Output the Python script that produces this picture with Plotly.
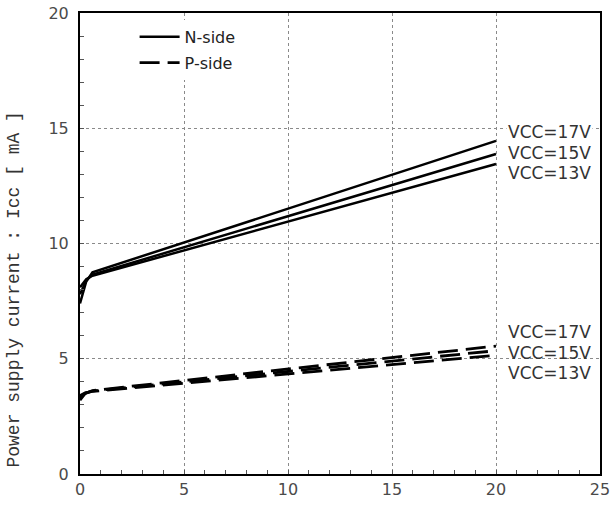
import plotly.graph_objects as go

# Data
x_n = [0, 0.3, 0.6, 20]
n_17 = [7.4, 8.35, 8.75, 14.45]
n_15 = [7.8, 8.4, 8.65, 13.88]
n_13 = [8.1, 8.45, 8.6, 13.45]

x_p = [0, 0.25, 0.6, 20]
p_17 = [3.2, 3.5, 3.62, 5.55]
p_15 = [3.3, 3.5, 3.6, 5.35]
p_13 = [3.4, 3.52, 3.58, 5.15]

labels = ["VCC=17V", "VCC=15V", "VCC=13V"]
label_y_n = [14.84, 13.93, 13.06]
label_y_p = [6.16, 5.25, 4.38]

x_ticks = [0, 5, 10, 15, 20, 25]
y_ticks = [0, 5, 10, 15, 20]

fig = go.Figure()

for i, ys in enumerate([n_17, n_15, n_13]):
    fig.add_trace(go.Scatter(
        x=x_n, y=ys, mode="lines", name="N-side", legendgroup="N",
        showlegend=(i == 0),
        line=dict(color="black", width=2.5),
    ))
for i, ys in enumerate([p_17, p_15, p_13]):
    fig.add_trace(go.Scatter(
        x=x_p, y=ys, mode="lines", name="P-side", legendgroup="P",
        showlegend=(i == 0),
        line=dict(color="black", width=2.8, dash="20px,8px"),
    ))

lab_font = dict(family="DejaVu Sans", size=17, color="#333333")
for i, (t, y) in enumerate(zip(labels, label_y_n)):
    fig.add_annotation(x=20, y=y, text=t, showarrow=False, xanchor="left",
                       xshift=10, font=lab_font,
                       bgcolor="white" if i == 0 else None)
for t, y in zip(labels, label_y_p):
    fig.add_annotation(x=20, y=y, text=t, showarrow=False, xanchor="left",
                       xshift=10, font=lab_font)

fig.add_annotation(
    x=-0.127, y=0.40, xref="paper", yref="paper", xanchor="center", yanchor="middle",
    text="Power supply current : Icc [ mA ]", textangle=-90,
    showarrow=False, font=dict(family="Liberation Mono", size=18, color="#333333"),
)

axis_common = dict(
    showline=True, linecolor="black", linewidth=2, mirror=True,
    ticks="inside", ticklen=4, tickcolor="#555555", tickwidth=1,
    showgrid=True, gridcolor="#8a8a8a", gridwidth=1, griddash="dot",
    zeroline=False, automargin=False,
    tickfont=dict(family="DejaVu Sans", size=16, color="#4a4a4a"),
    minor=dict(ticks="inside", ticklen=4, dtick=1, tickcolor="#555555", showgrid=False),
)

fig.update_xaxes(range=[0, 25], tickvals=x_ticks, **axis_common)
fig.update_yaxes(range=[0, 20], tickvals=y_ticks, ticklabelstandoff=6, **axis_common)

fig.update_layout(
    width=615, height=507,
    margin=dict(l=80, r=15, t=13, b=33, autoexpand=False),
    plot_bgcolor="white", paper_bgcolor="white",
    showlegend=True,
    legend=dict(
        x=0.105, y=0.985, xanchor="left", yanchor="top",
        bgcolor="white", borderwidth=0,
        font=dict(family="DejaVu Sans", size=16, color="#222222"),
        itemwidth=40, tracegroupgap=2,
    ),
)

fig.write_html(
    "out.html",
    config={"displayModeBar": False},
    post_script="document.body.style.margin='0';document.body.style.overflow='hidden';",
)
